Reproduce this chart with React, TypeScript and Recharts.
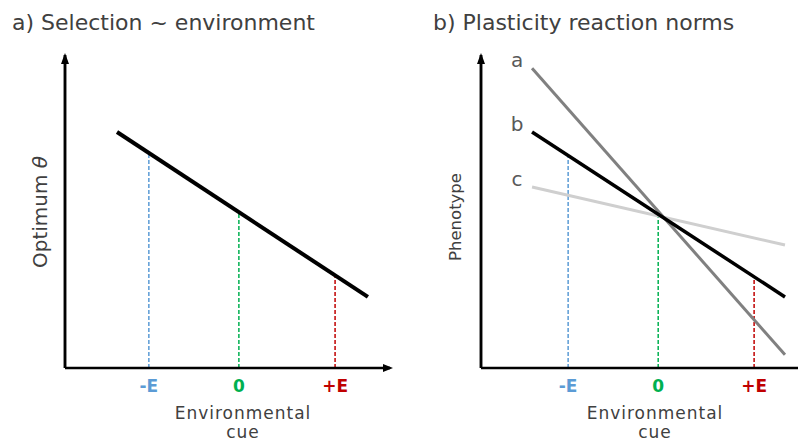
import React from 'react';
import { LineChart, Line, XAxis, YAxis, ReferenceLine, ReferenceDot } from 'recharts';

// ---- data (arbitrary cue / trait units) ----
const cueLabels = ['-E', '0', '+E'];
const cuePosA = [2.58, 5.35, 8.31];
const optimumAtCueA = [6.87, 4.98, 2.96];
const optimumX = [1.6, 9.32];
const optimumY = [7.54, 2.27];

const cuePosB = [2.68, 5.45, 8.4];
const phenotypeAtCueB = [6.79, 4.93, 2.92];
const normX = [1.57, 9.35];
const normNames = ['a', 'b', 'c'];
const normA = [9.58, 0.42];
const normB = [7.54, 2.27];
const normC = [5.78, 3.93];

// ---- styles ----
const cueColors = ['#5B9BD5', '#00B050', '#C00000'];
const normColors = ['#808080', '#000000', '#cfcfcf'];
const normWidths = [3, 3.5, 3];
const textColor = '#404040';
const FONT = '"DejaVu Sans", sans-serif';

const optimumData = optimumX.map((x, i) => ({ x, y: optimumY[i] }));
const normData = [normA, normB, normC].map((ys) => normX.map((x, i) => ({ x, y: ys[i] })));

const CueTick = (props: any) => {
  const { x, y, index } = props;
  return (
    <text x={x} y={y + 16} textAnchor="middle" fill={cueColors[index]} fontFamily={FONT} fontWeight="bold" fontSize={17}>
      {cueLabels[index]}
    </text>
  );
};

const upArrow = (p: any) => (
  <path d={`M${p.cx - 4},${p.cy + 9} L${p.cx},${p.cy - 2} L${p.cx + 4},${p.cy + 9} Z`} fill="#000" />
);
const rightArrow = (p: any) => (
  <path d={`M${p.cx - 7},${p.cy - 4} L${p.cx + 3},${p.cy} L${p.cx - 7},${p.cy + 4} Z`} fill="#000" />
);

const nameLabel = (name: string) => (props: any) => {
  if (props.index !== 0) return null;
  return (
    <text x={props.x - 15} y={props.y - 1} textAnchor="middle" fill="#595959" fontFamily={FONT} fontSize={20}>
      {name}
    </text>
  );
};

const axisStyle = { stroke: '#000', strokeWidth: 2.5 };

export default function App() {
  return (
    <div style={{ position: 'fixed', left: 0, top: 0, width: 798, height: 441, background: '#fff', overflow: 'hidden' }}>
      <svg width={798} height={441} style={{ position: 'absolute', left: 0, top: 0 }}>
        <text x={12} y={30} fill={textColor} fontFamily={FONT} fontSize={22}>a) Selection ~ environment</text>
        <text x={433} y={30} fill={textColor} fontFamily={FONT} fontSize={22}>b) Plasticity reaction norms</text>
        <text x={243} y={419} textAnchor="middle" fill={textColor} fontFamily={FONT} fontSize={17} letterSpacing={1}>Environmental</text>
        <text x={243} y={438} textAnchor="middle" fill={textColor} fontFamily={FONT} fontSize={17} letterSpacing={1}>cue</text>
        <text x={655} y={419} textAnchor="middle" fill={textColor} fontFamily={FONT} fontSize={17} letterSpacing={1}>Environmental</text>
        <text x={655} y={438} textAnchor="middle" fill={textColor} fontFamily={FONT} fontSize={17} letterSpacing={1}>cue</text>
        <text x={0} y={0} transform="translate(47,212) rotate(-90)" textAnchor="middle" fill={textColor} fontFamily={FONT} fontSize={20}>
          Optimum <tspan fontStyle="italic">θ</tspan>
        </text>
        <text x={0} y={0} transform="translate(461,217) rotate(-90)" textAnchor="middle" fill={textColor} fontFamily={FONT} fontSize={16.5}>
          Phenotype
        </text>
      </svg>

      <div style={{ position: 'absolute', left: 0, top: 0 }}>
        <LineChart width={400} height={441} margin={{ top: 55, right: 10, bottom: 43, left: 64 }} data={optimumData}>
          <XAxis type="number" dataKey="x" domain={[0, 10]} ticks={cuePosA} tick={<CueTick />} tickLine={false}
            axisLine={axisStyle} height={30} interval={0} allowDataOverflow />
          <YAxis type="number" domain={[0, 10]} width={1} tick={false} tickLine={false}
            axisLine={axisStyle} allowDataOverflow />
          <ReferenceLine segment={[{ x: 0, y: 0 }, { x: 0, y: 10 }]} stroke="#000" strokeWidth={2.5} />
          {cuePosA.map((x, i) => (
            <ReferenceLine key={i} segment={[{ x, y: 0 }, { x, y: optimumAtCueA[i] }]} stroke={cueColors[i]}
              strokeWidth={1.5} strokeDasharray="4 2" />
          ))}
          <Line dataKey="y" stroke="#000" strokeWidth={4} dot={false} isAnimationActive={false} />
          <ReferenceDot x={0} y={10} r={0} shape={upArrow} />
          <ReferenceDot x={10} y={0} r={0} shape={rightArrow} />
        </LineChart>
      </div>

      <div style={{ position: 'absolute', left: 400, top: 0 }}>
        <LineChart width={398} height={441} margin={{ top: 55, right: 0, bottom: 43, left: 80 }}>
          <XAxis type="number" dataKey="x" domain={[0, 9.75]} ticks={cuePosB} tick={<CueTick />} tickLine={false}
            axisLine={axisStyle} height={30} interval={0} allowDataOverflow />
          <YAxis type="number" domain={[0, 10]} width={1} tick={false} tickLine={false}
            axisLine={axisStyle} allowDataOverflow />
          <ReferenceLine segment={[{ x: 0, y: 0 }, { x: 0, y: 10 }]} stroke="#000" strokeWidth={2.5} />
          {cuePosB.map((x, i) => (
            <ReferenceLine key={i} segment={[{ x, y: 0 }, { x, y: phenotypeAtCueB[i] }]} stroke={cueColors[i]}
              strokeWidth={1.5} strokeDasharray="4 2" />
          ))}
          {[2, 0, 1].map((k) => (
            <Line key={k} data={normData[k]} dataKey="y" stroke={normColors[k]} strokeWidth={normWidths[k]} dot={false}
              isAnimationActive={false} label={nameLabel(normNames[k])} />
          ))}
          <ReferenceDot x={0} y={10} r={0} shape={upArrow} />
        </LineChart>
      </div>
    </div>
  );
}
